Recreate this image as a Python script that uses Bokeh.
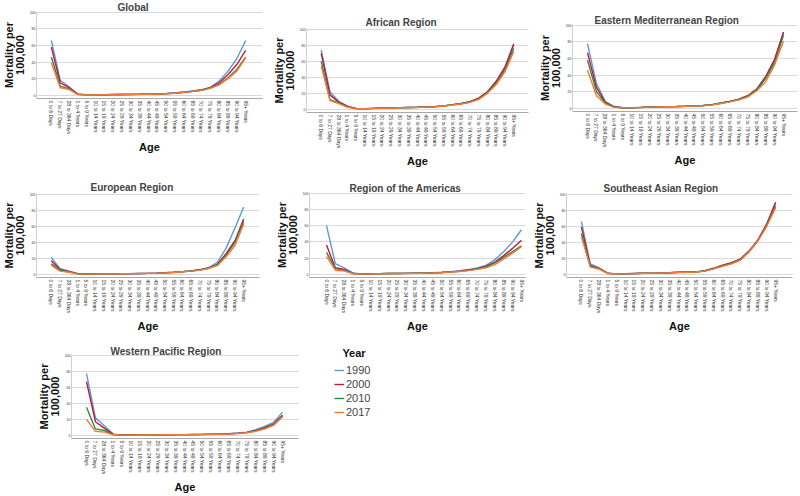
import math
from bokeh.plotting import figure
from bokeh.layouts import column, row
from bokeh.models import Range1d, FixedTicker, Legend, LegendItem, Label
from bokeh.embed import file_html
from bokeh.resources import INLINE

age_groups = ["0 to 6 Days", "7 to 27 Days", "28 to 364 Days", "1 to 4 Years",
              "5 to 9 Years", "10 to 14 Years", "15 to 19 Years", "20 to 24 Years",
              "25 to 29 Years", "30 to 34 Years", "35 to 39 Years", "40 to 44 Years",
              "45 to 49 Years", "50 to 54 Years", "55 to 59 Years", "60 to 64 Years",
              "65 to 69 Years", "70 to 74 Years", "75 to 79 Years", "80 to 84 Years",
              "85 to 89 Years", "90 to 94 Years", "95+ Years"]
years = ["1990", "2000", "2010", "2017"]
y_ticks = [0, 20, 40, 60, 80, 100]

global_1990 = [66, 18, 10, 1.5, 0.5, 0.4, 0.6, 0.8, 0.9, 1.0, 1.1, 1.3, 1.6, 2.0, 2.8, 3.8, 5.0, 6.5, 9.5, 17, 29, 44, 66]
global_2000 = [58, 15, 9, 1.3, 0.4, 0.4, 0.6, 0.8, 0.9, 1.0, 1.1, 1.3, 1.5, 1.9, 2.6, 3.6, 4.8, 6.2, 9.0, 15, 25, 37, 54]
global_2010 = [46, 11, 7.5, 1.0, 0.3, 0.3, 0.5, 0.7, 0.8, 0.9, 1.0, 1.2, 1.4, 1.8, 2.5, 3.5, 4.6, 6.0, 8.5, 13, 21, 31, 46]
global_2017 = [39, 9, 7, 0.8, 0.3, 0.3, 0.5, 0.7, 0.8, 0.9, 1.0, 1.2, 1.4, 1.7, 2.4, 3.4, 4.5, 5.8, 8.2, 12.5, 20, 29, 45]

african_1990 = [74, 22, 10, 4, 1.0, 0.8, 1.2, 1.6, 1.9, 2.1, 2.3, 2.5, 2.9, 3.3, 4.3, 5.8, 7.3, 9.5, 14, 22, 35, 51, 80]
african_2000 = [70, 18, 9, 3.5, 0.9, 0.8, 1.2, 1.6, 1.9, 2.1, 2.3, 2.5, 2.9, 3.3, 4.3, 5.8, 7.3, 9.5, 14, 22, 35, 53, 82]
african_2010 = [60, 12, 8, 3, 0.8, 0.7, 1.1, 1.5, 1.8, 2.0, 2.2, 2.4, 2.8, 3.2, 4.2, 5.6, 7.0, 9.0, 13, 21, 33, 49, 76]
african_2017 = [54, 11, 7, 2.5, 0.7, 0.7, 1.0, 1.4, 1.7, 1.9, 2.1, 2.3, 2.7, 3.1, 4.1, 5.4, 6.8, 8.6, 12.5, 20, 31, 47, 72]

emr_1990 = [78, 30, 8, 2.0, 0.6, 0.6, 1.0, 1.5, 1.7, 1.9, 2.1, 2.4, 2.8, 3.3, 4.3, 6.3, 8.3, 11, 15, 23, 38, 57, 91]
emr_2000 = [67, 25, 7, 1.6, 0.5, 0.5, 1.0, 1.5, 1.7, 1.9, 2.1, 2.4, 2.8, 3.3, 4.3, 6.2, 8.2, 11, 15, 23, 38, 59, 92]
emr_2010 = [58, 20, 6, 1.3, 0.5, 0.5, 0.9, 1.4, 1.6, 1.8, 2.0, 2.3, 2.7, 3.2, 4.2, 6.0, 8.0, 10.5, 14.5, 22, 36, 55, 88]
emr_2017 = [46, 15, 5, 1.0, 0.4, 0.4, 0.9, 1.3, 1.5, 1.7, 1.9, 2.2, 2.6, 3.1, 4.0, 5.7, 7.6, 10, 13.5, 21, 32, 52, 81]

european_1990 = [21, 7, 4, 1.0, 0.3, 0.3, 0.5, 0.6, 0.7, 0.8, 1.0, 1.2, 1.5, 1.9, 2.5, 3.3, 4.3, 5.8, 8.5, 15, 33, 58, 84]
european_2000 = [17, 6, 3.5, 0.8, 0.3, 0.3, 0.5, 0.6, 0.7, 0.8, 1.0, 1.2, 1.5, 1.9, 2.5, 3.3, 4.3, 5.6, 8.0, 12.5, 26, 42, 69]
european_2010 = [13, 5, 3, 0.6, 0.2, 0.2, 0.4, 0.5, 0.6, 0.7, 0.9, 1.1, 1.4, 1.8, 2.4, 3.2, 4.1, 5.4, 7.6, 12, 24, 40, 66]
european_2017 = [11, 4, 2.5, 0.5, 0.2, 0.2, 0.4, 0.5, 0.6, 0.7, 0.9, 1.1, 1.3, 1.7, 2.3, 3.1, 4.0, 5.2, 7.3, 11, 22, 36, 63]

americas_1990 = [60, 13, 8, 1.5, 0.4, 0.4, 0.8, 1.0, 1.1, 1.2, 1.4, 1.6, 1.9, 2.4, 3.2, 4.3, 5.8, 7.8, 11, 18, 28, 40, 55]
americas_2000 = [36, 8, 6, 1.0, 0.3, 0.3, 0.7, 0.9, 1.0, 1.1, 1.3, 1.5, 1.8, 2.2, 2.9, 3.9, 5.2, 7.0, 10, 15, 23, 32, 42]
americas_2010 = [27, 7, 5, 0.8, 0.3, 0.3, 0.7, 0.9, 1.0, 1.1, 1.2, 1.4, 1.7, 2.1, 2.7, 3.6, 4.8, 6.5, 9, 14, 21, 28, 35]
americas_2017 = [22, 5, 4, 0.7, 0.2, 0.3, 0.6, 0.9, 1.0, 1.0, 1.1, 1.3, 1.6, 2.0, 2.6, 3.4, 4.5, 6.0, 8, 12, 19, 26, 34]

seasia_1990 = [66, 13, 8, 1.5, 0.5, 0.6, 1.0, 1.4, 1.5, 1.7, 2.0, 2.5, 2.8, 3.0, 4.5, 7.5, 11, 14, 19, 29, 43, 62, 88]
seasia_2000 = [59, 11, 7.5, 1.3, 0.5, 0.6, 1.0, 1.4, 1.5, 1.7, 2.0, 2.5, 2.8, 3.0, 4.5, 7.5, 11.5, 14.5, 19, 29, 43, 63, 90]
seasia_2010 = [51, 10, 7, 1.1, 0.4, 0.5, 0.9, 1.3, 1.4, 1.6, 1.9, 2.4, 2.7, 2.9, 4.3, 7.0, 10.5, 13.5, 18, 28, 42, 61, 85]
seasia_2017 = [47, 9, 6.5, 1.0, 0.4, 0.5, 0.9, 1.3, 1.4, 1.6, 1.9, 2.3, 2.6, 2.8, 4.0, 6.8, 10, 13, 17.5, 28, 42, 60, 83]

wpr_1990 = [77, 22, 12, 1.5, 0.4, 0.3, 0.4, 0.5, 0.6, 0.7, 0.8, 0.9, 1.0, 1.1, 1.3, 1.6, 2.0, 2.8, 4.0, 7, 11, 16, 29]
wpr_2000 = [67, 17, 9, 1.2, 0.3, 0.3, 0.4, 0.5, 0.6, 0.7, 0.8, 0.9, 1.0, 1.1, 1.3, 1.5, 1.9, 2.6, 3.6, 6, 9.5, 14, 25]
wpr_2010 = [35, 8, 6, 0.8, 0.2, 0.2, 0.3, 0.4, 0.5, 0.6, 0.7, 0.8, 0.9, 1.0, 1.2, 1.4, 1.8, 2.4, 3.3, 5.5, 8.5, 13, 24]
wpr_2017 = [20, 5, 4, 0.6, 0.2, 0.2, 0.3, 0.4, 0.5, 0.6, 0.7, 0.8, 0.9, 1.0, 1.2, 1.4, 1.7, 2.3, 3.1, 5, 8, 12.5, 23]

COLORS = ["#5B9BD5", "#C8143C", "#2E8B3A", "#F4793B"]
FONT = "Liberation Sans"
Y_LO, Y_HI = -4, 101


def make_panel(title, series, box, rowbox, geom, title_left, title_standoff=1):
    bx0, bx1 = box
    by0, by1 = rowbox
    fig_w, fig_h = bx1 - bx0, by1 - by0
    cat0, cat22, y100, y0, fl, fr = geom
    dx = (cat22 - cat0) / 22
    pxu = (y0 - y100) / 100
    x_start = (fl - cat0) / dx
    x_end = (fr - cat0) / dx
    ft = y100 - (Y_HI - 100) * pxu
    fb = y0 - Y_LO * pxu
    mbl = round(fl - bx0)
    mbr = fig_w - round(fr - bx0)
    mbt = round(ft - by0)
    mbb = fig_h - round(fb - by0)
    p = figure(width=fig_w, height=fig_h, x_range=Range1d(x_start, x_end),
               y_range=Range1d(Y_LO, Y_HI), output_backend="svg", toolbar_location=None,
               min_border_left=mbl, min_border_right=mbr, min_border_top=mbt,
               min_border_bottom=mbb, title=title)
    p.title.text_font = FONT
    p.title.text_font_size = "10px"
    p.title.text_font_style = "bold"
    p.title.align = "left"
    p.title.offset = title_left - fl
    p.title.standoff = title_standoff
    p.outline_line_color = None
    p.background_fill_color = "white"
    p.border_fill_color = "white"

    xs = list(range(len(age_groups)))
    renderers = []
    for vals, c in zip(series, COLORS):
        r = p.line(xs, vals, line_color=c, line_width=1.4)
        renderers.append(r)

    xa = p.xaxis[0]
    xa.ticker = FixedTicker(ticks=xs)
    xa.major_label_overrides = {i: lab for i, lab in enumerate(age_groups)}
    xa.major_label_orientation = -math.pi / 2
    xa.major_label_text_font = FONT
    xa.major_label_text_font_size = "5px"
    xa.major_label_text_color = "#333333"
    xa.major_label_standoff = 2
    xa.major_tick_out = 0
    xa.major_tick_in = 0
    xa.minor_tick_out = 0
    xa.minor_tick_in = 0
    xa.axis_line_color = "#A8A8A8"
    xa.axis_label = "Age"
    xa.axis_label_text_font = FONT
    xa.axis_label_text_font_size = "11px"
    xa.axis_label_text_font_style = "bold"
    xa.axis_label_text_color = "#111111"
    xa.axis_label_standoff = 4

    ya = p.yaxis[0]
    ya.ticker = FixedTicker(ticks=y_ticks)
    ya.major_label_text_font = FONT
    ya.major_label_text_font_size = "3.5px"
    ya.major_label_text_color = "#333333"
    ya.major_label_standoff = 1
    ya.major_tick_out = 0
    ya.major_tick_in = 0
    ya.minor_tick_out = 0
    ya.minor_tick_in = 0
    ya.axis_line_color = "#D0D0D0"
    ya.axis_label = "Mortality per\n100,000"
    ya.axis_label_text_font = FONT
    ya.axis_label_text_font_size = "11px"
    ya.axis_label_text_font_style = "bold"
    ya.axis_label_text_line_height = 0.85
    ya.axis_label_text_color = "#111111"
    ya.axis_label_standoff = 1

    p.xgrid.visible = False
    p.ygrid.grid_line_color = "#DADADA"
    p.ygrid.grid_line_width = 1
    return p, renderers


R1, R2, R3 = (0, 170), (170, 335), (335, 496)
C1, C2, C3 = (0, 270), (270, 530), (530, 800)

p1, _ = make_panel("Global", [global_1990, global_2000, global_2010, global_2017],
                   C1, R1, (49, 245, 11, 95, 34, 262), 115, title_standoff=-2)
p2, _ = make_panel("African Region", [african_1990, african_2000, african_2010, african_2017],
                   C2, R1, (317, 513, 29, 109, 302, 528), 361, title_standoff=1)
p3, _ = make_panel("Eastern Mediterranean Region", [emr_1990, emr_2000, emr_2010, emr_2017],
                   C3, R1, (587, 783, 25, 108, 572, 797), 594, title_standoff=-2)
p4, _ = make_panel("European Region", [european_1990, european_2000, european_2010, european_2017],
                   C1, R2, (48, 243, 194, 274, 33, 259), 87, title_standoff=1)
p5, _ = make_panel("Region of the Americas", [americas_1990, americas_2000, americas_2010, americas_2017],
                   C2, R2, (326, 521, 193, 275, 309, 525), 349, title_standoff=-2)
p6, _ = make_panel("Southeast Asian Region", [seasia_1990, seasia_2000, seasia_2010, seasia_2017],
                   C3, R2, (580, 775, 194, 275, 565, 792), 602, title_standoff=0)
p7, _ = make_panel("Western Pacific Region", [wpr_1990, wpr_2000, wpr_2010, wpr_2017],
                   (0, 310), R3, (86, 282, 355, 439, 71, 298), 110, title_standoff=-4)

# legend panel: a small figure holding the key (its line renderers are hidden)
LEG_X0 = 310
pl = figure(width=800 - LEG_X0, height=R3[1] - R3[0], x_range=Range1d(0, 1), y_range=Range1d(0, 1),
            output_backend="svg", toolbar_location=None, min_border=0, title=None)
pl.axis.visible = False
pl.grid.visible = False
pl.outline_line_color = None
pl.background_fill_color = "white"
pl.border_fill_color = "white"
key_series = [wpr_1990, wpr_2000, wpr_2010, wpr_2017]
key_rends = [pl.line(list(range(len(age_groups))), vals, line_color=c, line_width=1.4, visible=False)
             for vals, c in zip(key_series, COLORS)]
legend = Legend(items=[LegendItem(label=y, renderers=[r]) for y, r in zip(years, key_rends)],
                location=(334 - LEG_X0, 496 - 419))
legend.label_text_font = FONT
legend.label_text_font_size = "11px"
legend.glyph_width = 10
legend.glyph_height = 14
legend.label_height = 14
legend.label_standoff = 2
legend.spacing = 0
legend.padding = 0
legend.margin = 0
legend.border_line_alpha = 0
legend.background_fill_alpha = 0
pl.add_layout(legend, "center")
pl.add_layout(Label(x=353.5 - LEG_X0, y=496 - 352, x_units="screen", y_units="screen",
                    text="Year", text_font=FONT, text_font_size="11px", text_font_style="bold",
                    text_align="center", text_baseline="middle", text_color="#111111"))

layout = column(row(column(p1), column(p2), column(p3)),
                row(column(p4), column(p5), column(p6)),
                row(column(p7), column(pl)))

with open("out.html", "w") as f:
    f.write(file_html(layout, INLINE))
